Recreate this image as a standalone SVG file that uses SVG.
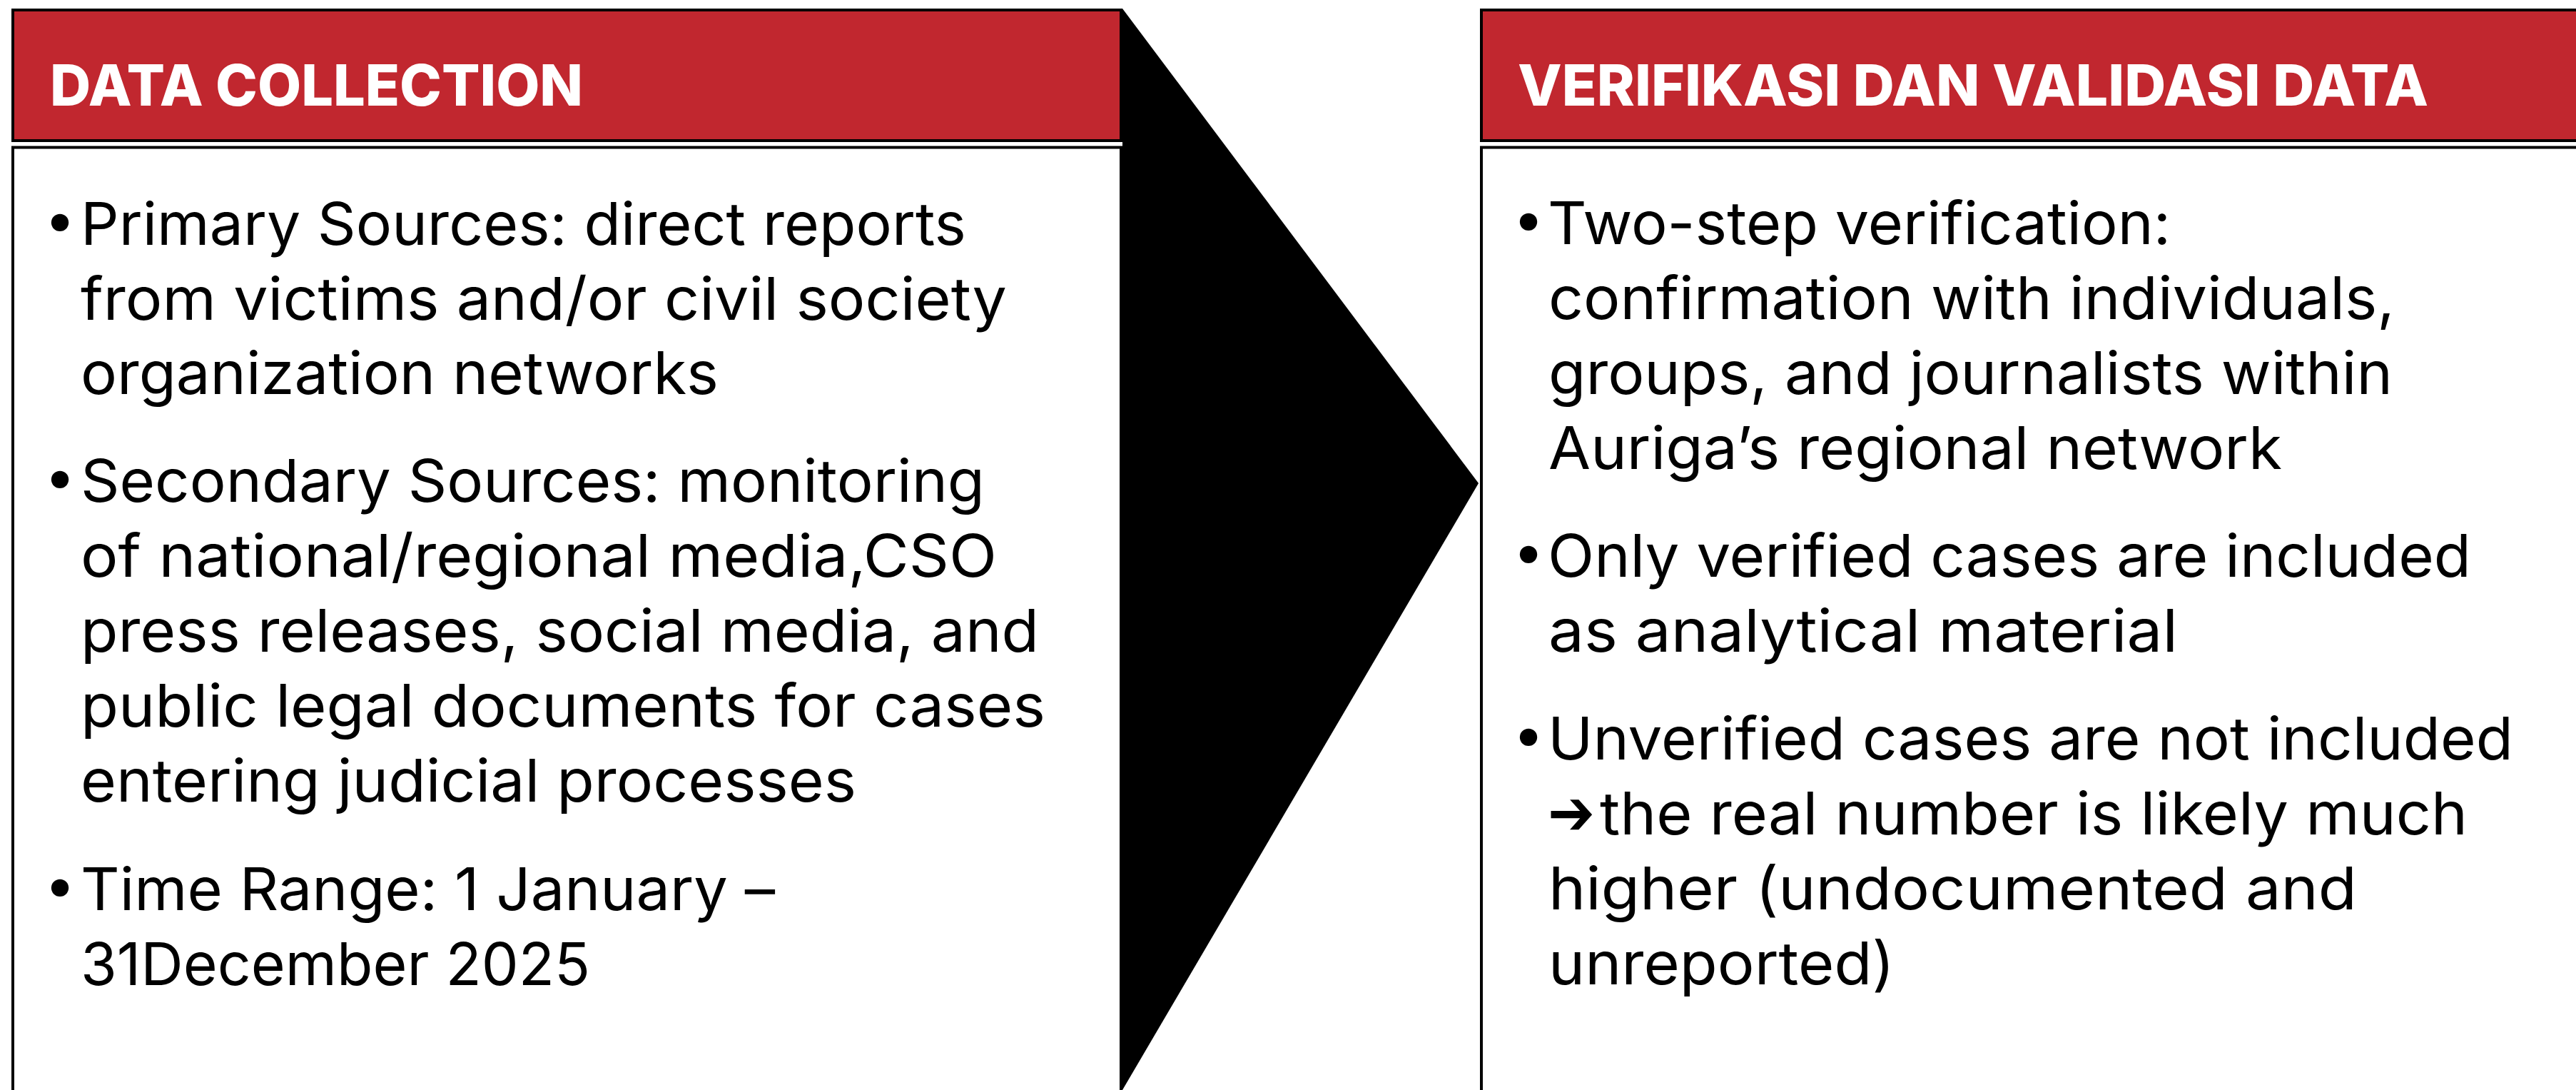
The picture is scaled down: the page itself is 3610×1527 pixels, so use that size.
<svg xmlns="http://www.w3.org/2000/svg" width="3610" height="1527" viewBox="0 0 3610 1527">
  <style>
    .hdr { fill: #C1272F; stroke: #000; stroke-width: 4; }
    .body { fill: #FFFFFF; stroke: #000; stroke-width: 4; }
    .htext { font-family: Inter, "Liberation Sans", sans-serif; font-weight: 800; font-size: 80px; fill: #FFFFFF; }
    .btext { font-family: Inter, "Liberation Sans", sans-serif; font-weight: 400; font-size: 83px; fill: #000000; }
    .bullet { font-family: "DejaVu Sans", sans-serif; font-size: 84px; fill: #000; text-anchor: middle; }
    .arrow { font-family: "DejaVu Sans", sans-serif; font-size: 88px; fill: #000; }
  </style>
  <rect width="3610" height="1527" fill="#FFFFFF"/>

  <g id="connectors">
    <polygon points="1573,12 2072,677 1573,1527" fill="#000000"/>
  </g>

  <g id="node-data-collection">
    <rect class="body" x="18" y="206.5" width="1553" height="1360"/>
    <rect class="hdr" x="18" y="14" width="1553" height="183"/>
    <text class="htext" x="70" y="148" textLength="747" lengthAdjust="spacingAndGlyphs">DATA COLLECTION</text>
    <text class="bullet" x="84" y="343">•</text>
    <text class="btext" x="113" y="343" textLength="1241" lengthAdjust="spacingAndGlyphs">Primary Sources: direct reports</text>
    <text class="btext" x="113" y="447.5" textLength="1298" lengthAdjust="spacingAndGlyphs">from victims and/or civil society</text>
    <text class="btext" x="113" y="552" textLength="894" lengthAdjust="spacingAndGlyphs">organization networks</text>
    <text class="bullet" x="84" y="703">•</text>
    <text class="btext" x="113" y="703" textLength="1267" lengthAdjust="spacingAndGlyphs">Secondary Sources: monitoring</text>
    <text class="btext" x="113" y="808" textLength="1284" lengthAdjust="spacingAndGlyphs">of national/regional media,CSO</text>
    <text class="btext" x="113" y="913" textLength="1343" lengthAdjust="spacingAndGlyphs">press releases, social media, and</text>
    <text class="btext" x="113" y="1018" textLength="1352" lengthAdjust="spacingAndGlyphs">public legal documents for cases</text>
    <text class="btext" x="113" y="1123" textLength="1087" lengthAdjust="spacingAndGlyphs">entering judicial processes</text>
    <text class="bullet" x="84" y="1275">•</text>
    <text class="btext" x="113" y="1275" textLength="973" lengthAdjust="spacingAndGlyphs">Time Range: 1 January –</text>
    <text class="btext" x="113" y="1380" textLength="714" lengthAdjust="spacingAndGlyphs">31December 2025</text>
  </g>

  <g id="node-verifikasi">
    <rect class="body" x="2076" y="206.5" width="1600" height="1360"/>
    <rect class="hdr" x="2076" y="14" width="1600" height="183"/>
    <text class="htext" x="2127" y="148" textLength="1276" lengthAdjust="spacingAndGlyphs">VERIFIKASI DAN VALIDASI DATA</text>
    <text class="bullet" x="2142" y="342">•</text>
    <text class="btext" x="2169" y="342" textLength="873" lengthAdjust="spacingAndGlyphs">Two-step verification:</text>
    <text class="btext" x="2170" y="447" textLength="1186" lengthAdjust="spacingAndGlyphs">confirmation with individuals,</text>
    <text class="btext" x="2170" y="552" textLength="1183" lengthAdjust="spacingAndGlyphs">groups, and journalists within</text>
    <text class="btext" x="2170" y="657" textLength="1028" lengthAdjust="spacingAndGlyphs">Auriga’s regional network</text>
    <text class="bullet" x="2142" y="808">•</text>
    <text class="btext" x="2169" y="808" textLength="1294" lengthAdjust="spacingAndGlyphs">Only verified cases are included</text>
    <text class="btext" x="2170" y="913" textLength="882" lengthAdjust="spacingAndGlyphs">as analytical material</text>
    <text class="bullet" x="2142" y="1064">•</text>
    <text class="btext" x="2169" y="1064" textLength="1353" lengthAdjust="spacingAndGlyphs">Unverified cases are not included</text>
    <text class="btext" x="2169" y="1169"><tspan class="arrow" x="2169" textLength="66" lengthAdjust="spacingAndGlyphs">➔</tspan><tspan x="2242" textLength="1216" lengthAdjust="spacingAndGlyphs">the real number is likely much</tspan></text>
    <text class="btext" x="2170" y="1274" textLength="1133" lengthAdjust="spacingAndGlyphs">higher (undocumented and</text>
    <text class="btext" x="2170" y="1379" textLength="485" lengthAdjust="spacingAndGlyphs">unreported)</text>
  </g>
</svg>
